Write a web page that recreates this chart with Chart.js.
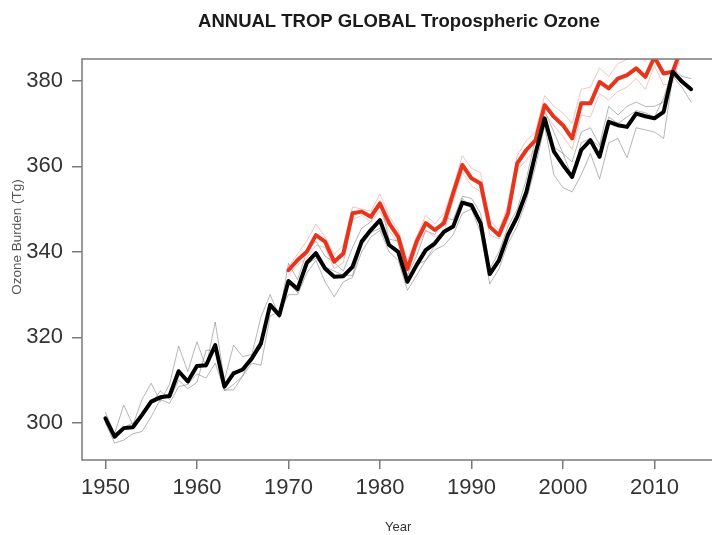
<!DOCTYPE html>
<html><head><meta charset="utf-8">
<script src="https://cdn.jsdelivr.net/npm/chart.js@4.4.1/dist/chart.umd.min.js"></script>
<style>
html,body{margin:0;padding:0;overflow:hidden;background:#fff;width:712px;height:535px}
#wrap{width:712px;height:535px;overflow:hidden;position:relative}
canvas{display:block}
</style></head><body>
<div id="wrap"><canvas id="c" width="716" height="535"></canvas></div>
<script>
const chartTitle = 'ANNUAL TROP GLOBAL Tropospheric Ozone';
const yTitle = 'Ozone Burden (Tg)';
const xTitle = 'Year';
const xTicks = [1950, 1960, 1970, 1980, 1990, 2000, 2010];
const yTicks = [300, 320, 340, 360, 380];

const yearsAll = [1950,1951,1952,1953,1954,1955,1956,1957,1958,1959,1960,1961,1962,1963,1964,1965,1966,1967,1968,1969,
  1970,1971,1972,1973,1974,1975,1976,1977,1978,1979,1980,1981,1982,1983,1984,1985,1986,1987,1988,1989,
  1990,1991,1992,1993,1994,1995,1996,1997,1998,1999,2000,2001,2002,2003,2004,2005,2006,2007,2008,2009,
  2010,2011,2012,2013,2014];
const yearsRed = [1970,1971,1972,1973,1974,1975,1976,1977,1978,1979,1980,1981,1982,1983,1984,1985,1986,1987,1988,1989,
  1990,1991,1992,1993,1994,1995,1996,1997,1998,1999,2000,2001,2002,2003,2004,2005,2006,2007,2008,2009,
  2010,2011,2012,2013];

// ensemble mean (black)
const blackMean = [301.1,296.8,298.8,299.0,301.9,305.0,306.0,306.3,312.1,309.7,313.3,313.5,318.2,308.5,311.6,312.5,315.1,318.6,327.6,325.2,
  333.2,331.3,337.4,339.7,336.1,334.2,334.3,336.5,342.4,345.1,347.4,341.6,340.0,333.0,336.9,340.4,342.0,344.7,345.9,351.5,
  350.9,346.7,334.8,338.0,344.0,348.2,354.0,363.0,371.2,363.5,360.3,357.5,363.8,366.1,362.2,370.4,369.6,369.2,372.3,371.7,
  371.2,372.7,382.1,379.8,378.0];
// red mean (from 1970)
const redMean = [335.7,338.1,340.0,343.9,342.4,337.7,339.6,349.0,349.4,348.2,351.3,346.7,343.5,336.0,342.4,346.7,345.1,346.7,353.7,360.3,
  357.2,356.0,345.9,343.9,349.0,360.7,363.8,366.1,374.3,371.6,369.6,366.5,374.7,374.7,379.7,378.2,380.5,381.3,382.9,380.9,
  385.5,381.7,382.1,388.0];
// thin grey members
const greyA = [302.5,297.5,304.2,299.5,305.5,309.3,305.0,309.0,318.0,312.0,319.0,313.0,323.6,310.0,318.2,315.5,316.0,324.8,330.0,325.0,
  337.3,333.5,340.0,342.5,339.0,337.5,335.5,341.0,345.5,347.0,352.0,343.0,342.5,334.5,339.0,345.0,344.0,348.0,347.5,353.0,
  352.5,349.0,336.0,340.0,346.0,350.0,357.0,366.5,373.0,368.0,363.0,361.0,368.0,369.0,365.0,374.0,372.0,374.0,375.0,374.0,
  374.0,375.0,383.0,381.0,380.5];
const greyB = [300.0,295.3,296.0,297.5,298.0,301.5,305.5,304.6,308.5,309.0,311.5,310.5,314.0,307.7,307.7,311.0,314.0,313.5,325.0,326.0,
  330.0,330.0,335.0,338.0,333.0,329.5,333.0,334.0,340.0,343.5,345.0,340.0,338.0,331.0,334.5,338.0,340.5,341.5,344.0,349.0,
  350.0,344.5,332.5,336.0,342.0,346.0,352.0,360.0,369.5,358.0,355.0,354.0,358.0,363.0,357.0,365.5,366.5,362.0,369.0,368.5,
  368.0,366.5,381.0,378.5,375.0];
const greyC = [301.0,297.5,299.0,300.0,302.0,304.5,307.5,305.5,310.0,308.0,309.5,317.0,317.0,307.5,309.0,311.0,315.5,317.5,328.0,324.5,
  332.5,330.5,337.0,338.5,336.5,335.5,334.5,334.5,341.5,344.5,345.5,341.5,339.5,333.5,337.0,338.0,341.5,344.5,346.0,352.5,
  350.0,346.5,335.5,338.0,344.0,348.5,353.0,362.5,371.0,364.5,363.0,357.5,365.5,366.5,364.5,371.5,370.0,371.5,373.0,372.5,
  371.5,376.0,382.5,379.5,378.5];
// thin light-red members
const pinkA = [336.5,339.5,342.5,346.5,343.5,339.5,341.5,350.5,350.0,349.5,353.5,348.5,345.0,338.0,343.5,348.5,346.5,349.0,355.0,362.5,
  359.5,358.5,347.5,345.0,351.0,362.5,366.0,368.0,376.5,374.0,372.5,370.0,378.0,378.5,383.0,381.0,384.0,385.0,386.0,384.5,
  388.0,385.0,386.0,390.0];
const pinkB = [334.5,337.0,338.5,341.5,341.0,336.0,337.5,347.5,348.5,347.0,349.5,345.0,342.0,334.5,341.0,345.0,343.5,344.5,352.0,358.5,
  355.5,354.0,344.0,343.0,347.5,359.0,361.5,364.0,372.5,369.5,367.0,364.0,372.0,371.5,377.0,375.5,377.5,378.5,380.5,378.0,
  383.5,379.0,379.5,386.5];

const pts = (xs, ys) => xs.map((x, i) => ({x: x, y: ys[i]}));
const FONT = '"Liberation Sans", Arial, Helvetica, sans-serif';

function line(data, color, width) {
  return {data: data, borderColor: color, borderWidth: width, pointRadius: 0, fill: false, tension: 0,
          borderJoinStyle: 'round', borderCapStyle: 'round'};
}

const decor = {
  id: 'decor',
  afterDraw(chart) {
    const ctx = chart.ctx, a = chart.chartArea;
    ctx.save();
    ctx.strokeStyle = '#7a7a7a';
    ctx.lineWidth = 1.5;
    ctx.strokeRect(a.left, a.top, a.right - a.left, a.bottom - a.top);
    ctx.fillStyle = '#1a1a1a';
    ctx.font = 'bold 18.5px ' + FONT;
    ctx.textAlign = 'center';
    ctx.textBaseline = 'alphabetic';
    ctx.fillText(chartTitle, 399, 26.5);
    ctx.translate(20.5, 237);
    ctx.rotate(-Math.PI / 2);
    ctx.fillStyle = '#555';
    ctx.font = '13.5px ' + FONT;
    ctx.fillText(yTitle, 0, 0);
    ctx.restore();
  }
};

new Chart(document.getElementById('c'), {
  type: 'line',
  data: {
    datasets: [
      line(pts(yearsAll, blackMean), '#000000', 4),
      line(pts(yearsRed, redMean), '#e8341c', 4),
      line(pts(yearsRed, pinkA), 'rgba(240,140,120,0.5)', 1),
      line(pts(yearsRed, pinkB), 'rgba(240,140,120,0.5)', 1),
      line(pts(yearsAll, greyA), 'rgba(110,110,110,0.5)', 1),
      line(pts(yearsAll, greyB), 'rgba(110,110,110,0.5)', 1),
      line(pts(yearsAll, greyC), 'rgba(110,110,110,0.5)', 1)
    ]
  },
  options: {
    responsive: false,
    animation: false,
    events: [],
    layout: {padding: {top: 59, right: 1.5, bottom: 0, left: 0}},
    plugins: {legend: {display: false}, tooltip: {enabled: false}, title: {display: false}},
    scales: {
      x: {
        type: 'linear', min: 1947.44, max: 2016.56,
        afterBuildTicks(s) { s.ticks = xTicks.map(v => ({value: v})); },
        afterFit(s) { s.height = 75; },
        grid: {drawOnChartArea: false, drawTicks: true, tickLength: 9, color: '#7a7a7a', lineWidth: 1.5},
        border: {display: false},
        ticks: {color: '#333', font: {family: FONT, size: 22}, padding: 6, maxRotation: 0,
                callback: v => String(v)},
        title: {display: true, text: xTitle, color: '#333', font: {family: FONT, size: 13}, padding: {top: 0, bottom: 0}}
      },
      y: {
        type: 'linear', min: 291.35, max: 385.07,
        afterBuildTicks(s) { s.ticks = yTicks.map(v => ({value: v})); },
        afterFit(s) { s.width = 82; },
        grid: {drawOnChartArea: false, drawTicks: true, tickLength: 10, color: '#7a7a7a', lineWidth: 1.5},
        border: {display: false},
        ticks: {color: '#333', font: {family: FONT, size: 22}, padding: 9, callback: v => String(v)}
      }
    }
  },
  plugins: [decor]
});
</script>
</body></html>
